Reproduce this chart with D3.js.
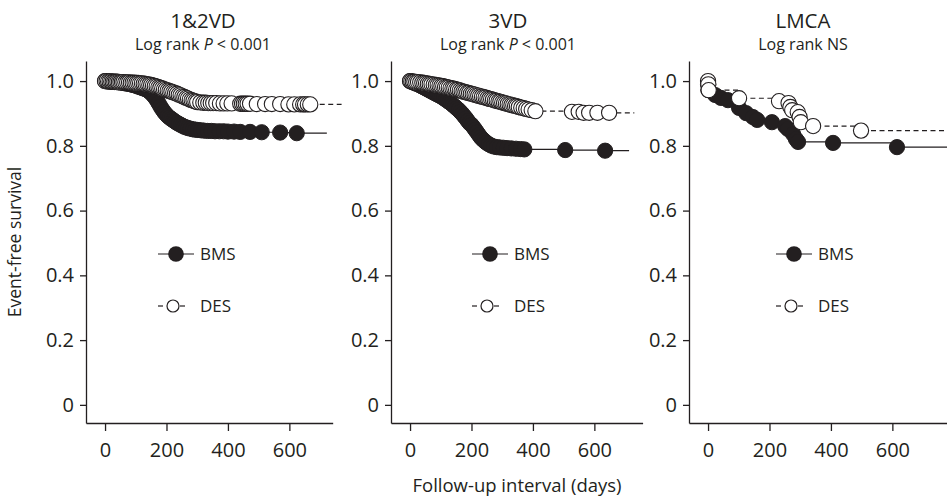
<!DOCTYPE html>
<html><head><meta charset="utf-8">
<script src="https://cdn.jsdelivr.net/npm/d3@7"></script>
<style>
body{margin:0;background:#fff}
text{font-family:"Open Sans","Noto Sans",sans-serif;fill:#231f20}
</style>
</head><body><svg id="c" width="947" height="503"></svg>
<script>
// ---------------- data ----------------
const panelNames = ["1&2VD", "3VD", "LMCA"];
const panelStats = ["P < 0.001", "P < 0.001", "NS"];
const seriesNames = ["BMS", "DES"];
const xTicks = [0, 200, 400, 600];
const yTicks = [0, 0.2, 0.4, 0.6, 0.8, 1.0];
const xLabel = "Follow-up interval (days)";
const yLabel = "Event-free survival";

// [day, survival]
const bms12 = [[0,1.0],[6,0.999],[12,0.999],[18,0.998],[24,0.998],[30,0.997],[36,0.997],[42,0.996],[48,0.996],[54,0.995],[60,0.994],[66,0.993],[72,0.992],[78,0.991],[84,0.99],[90,0.988],[96,0.987],[102,0.985],[108,0.983],[114,0.981],[120,0.979],[126,0.977],[132,0.975],[138,0.972],[144,0.968],[150,0.963],[156,0.957],[162,0.95],[168,0.942],[174,0.932],[180,0.922],[186,0.913],[192,0.905],[198,0.898],[204,0.892],[210,0.887],[216,0.883],[222,0.879],[228,0.875],[234,0.871],[240,0.868],[246,0.865],[252,0.862],[258,0.859],[264,0.857],[270,0.855],[278,0.853],[286,0.851],[294,0.85],[302,0.849],[312,0.848],[322,0.847],[334,0.846],[346,0.846],[358,0.845],[372,0.845],[386,0.845],[400,0.844],[420,0.844],[440,0.843],[472,0.843],[510,0.842],[570,0.841],[624,0.839]];
const des12 = [[0,1.0],[5,1.0],[10,0.999],[15,0.999],[20,0.999],[25,0.998],[30,0.998],[35,0.998],[40,0.998],[45,0.997],[50,0.997],[55,0.997],[60,0.997],[66,0.996],[72,0.996],[78,0.996],[84,0.995],[90,0.995],[96,0.995],[102,0.994],[108,0.994],[114,0.993],[120,0.993],[126,0.992],[132,0.991],[138,0.99],[144,0.989],[150,0.988],[156,0.986],[162,0.985],[168,0.983],[174,0.981],[180,0.979],[186,0.977],[192,0.975],[198,0.973],[204,0.971],[210,0.969],[216,0.967],[222,0.965],[228,0.963],[234,0.961],[240,0.958],[246,0.956],[252,0.953],[258,0.951],[264,0.948],[270,0.946],[276,0.943],[282,0.941],[288,0.939],[294,0.937],[300,0.935],[310,0.934],[320,0.933],[328,0.933],[336,0.932],[344,0.932],[352,0.932],[362,0.932],[374,0.931],[386,0.931],[398,0.931],[412,0.931],[440,0.93],[446,0.93],[452,0.93],[458,0.93],[464,0.93],[472,0.93],[494,0.929],[521,0.929],[543,0.929],[570,0.929],[597,0.928],[616,0.928],[635,0.928],[645,0.928],[651,0.928],[660,0.928],[668,0.928]];

const bms3 = [[0,1.0],[5,0.998],[10,0.996],[15,0.994],[20,0.992],[26,0.99],[32,0.987],[38,0.984],[44,0.981],[50,0.978],[56,0.975],[62,0.972],[68,0.969],[74,0.966],[80,0.963],[86,0.96],[92,0.957],[98,0.954],[104,0.951],[110,0.947],[116,0.943],[122,0.939],[128,0.935],[134,0.931],[140,0.926],[146,0.921],[152,0.916],[158,0.911],[164,0.905],[170,0.899],[176,0.892],[182,0.885],[188,0.877],[194,0.87],[200,0.865],[206,0.858],[212,0.85],[218,0.842],[224,0.834],[230,0.826],[236,0.82],[242,0.815],[248,0.81],[256,0.805],[264,0.801],[272,0.798],[282,0.796],[292,0.795],[304,0.794],[316,0.793],[330,0.792],[345,0.791],[360,0.79],[372,0.789],[505,0.787],[635,0.785]];
const des3 = [[0,1.0],[4,0.999],[9,0.998],[14,0.998],[20,0.997],[26,0.997],[33,0.996],[40,0.995],[46,0.994],[52,0.993],[58,0.992],[64,0.991],[70,0.99],[77,0.989],[84,0.988],[90,0.987],[96,0.986],[102,0.985],[108,0.984],[114,0.982],[120,0.981],[126,0.98],[132,0.978],[138,0.977],[144,0.976],[150,0.974],[156,0.973],[162,0.971],[168,0.969],[174,0.967],[180,0.966],[186,0.964],[192,0.963],[198,0.961],[204,0.96],[210,0.958],[216,0.956],[222,0.955],[228,0.953],[234,0.952],[240,0.95],[246,0.949],[252,0.947],[258,0.945],[264,0.944],[270,0.942],[276,0.94],[282,0.939],[288,0.937],[294,0.936],[300,0.934],[306,0.932],[312,0.931],[318,0.929],[324,0.928],[330,0.926],[336,0.925],[342,0.923],[348,0.922],[354,0.92],[362,0.918],[370,0.916],[378,0.914],[386,0.912],[396,0.91],[408,0.907],[527,0.905],[549,0.905],[565,0.902],[583,0.902],[610,0.902],[648,0.902]];

const bmsLm = [[0,0.99],[1,0.972],[23,0.957],[42,0.948],[65,0.941],[101,0.917],[124,0.901],[146,0.889],[160,0.88],[208,0.873],[251,0.861],[260,0.852],[277,0.836],[286,0.821],[293,0.812],[407,0.809],[615,0.796]];
const desLm = [[0,1.0],[1,0.99],[2,0.972],[101,0.947],[231,0.938],[262,0.932],[268,0.92],[274,0.91],[292,0.904],[298,0.889],[302,0.873],[342,0.861],[498,0.847]];

// last follow-up day for each curve (BMS, DES) per panel
const followEndBms = [722, 713, 820];
const followEndDes = [770, 730, 820];

// ---------------- layout ----------------
const svg = d3.select("#c");
const K = 0.3072;               // px per day
const dayMin = -62;
const panelLeft = [86, 391, 689];
const panelDayMax = [741, 757, 820];
const titleX = [203, 508, 803];
const legendX = [176, 490, 794];
const y = d3.scaleLinear().domain([-0.056, 1.062]).range([423, 61]);
const ink = "#231f20";

const data = [[bms12, des12], [bms3, des3], [bmsLm, desLm]];

data.forEach((pair, i) => {
  const left = panelLeft[i];
  const x = d3.scaleLinear().domain([dayMin, panelDayMax[i]])
    .range([left, left + (panelDayMax[i] - dayMin) * K]);
  const g = svg.append("g");

  // axes
  const ya = g.append("g").attr("transform", `translate(${left},0)`)
    .call(d3.axisLeft(y).tickValues(yTicks).tickSize(6).tickSizeOuter(0).tickPadding(6)
      .tickFormat(d => d === 0 ? "0" : d.toFixed(1)));
  const xa = g.append("g").attr("transform", `translate(0,${y.range()[0]})`)
    .call(d3.axisBottom(x).tickValues(xTicks).tickSize(8).tickSizeOuter(0).tickPadding(12)
      .tickFormat(d3.format("d")));
  [ya, xa].forEach(a => {
    a.selectAll("path,line").attr("stroke", ink).attr("stroke-width", 1.3);
    a.selectAll("text").attr("font-size", 20).attr("fill", ink)
      .style("font-family", '"Open Sans",sans-serif');
  });
  xa.selectAll("text").attr("dy", "0.71em");

  // titles
  g.append("text").attr("x", titleX[i]).attr("y", 28).attr("text-anchor", "middle")
    .attr("font-size", 20.5).text(panelNames[i]);
  const st = g.append("text").attr("x", titleX[i]).attr("y", 50).attr("text-anchor", "middle")
    .attr("font-size", 16);
  st.append("tspan").text("Log rank ");
  if (panelStats[i].startsWith("P")) {
    st.append("tspan").attr("font-style", "italic").text("P");
    st.append("tspan").text(panelStats[i].slice(1));
  } else st.append("tspan").text(panelStats[i]);

  // survival step lines
  const line = d3.line().x(d => x(d[0])).y(d => y(d[1])).curve(d3.curveStepAfter);
  const [bms, des] = pair;
  const bmsLine = bms.concat([[followEndBms[i], bms[bms.length - 1][1]]]);
  const desLine = des.concat([[followEndDes[i], des[des.length - 1][1]]]);
  g.append("path").attr("d", line(bmsLine)).attr("fill", "none")
    .attr("stroke", ink).attr("stroke-width", 1.2);
  g.append("path").attr("d", line(desLine)).attr("fill", "none")
    .attr("stroke", ink).attr("stroke-width", 1.2).attr("stroke-dasharray", "5,3.5");

  // markers
  g.append("g").selectAll("circle").data(bms).join("circle")
    .attr("cx", d => x(d[0])).attr("cy", d => y(d[1])).attr("r", 7.6)
    .attr("fill", ink).attr("stroke", ink).attr("stroke-width", 1);
  g.append("g").selectAll("circle").data(des).join("circle")
    .attr("cx", d => x(d[0])).attr("cy", d => y(d[1])).attr("r", 7.6)
    .attr("fill", "#fff").attr("stroke", ink).attr("stroke-width", 1.1);

  // legend
  const lx = legendX[i];
  const lg = g.append("g");
  lg.append("line").attr("x1", lx - 18).attr("x2", lx + 18).attr("y1", 254).attr("y2", 254)
    .attr("stroke", ink).attr("stroke-width", 1.2);
  lg.append("circle").attr("cx", lx).attr("cy", 254).attr("r", 7.8).attr("fill", ink);
  lg.append("text").attr("x", lx + 24).attr("y", 260).attr("font-size", 17).text(seriesNames[0]);
  const dx = lx - 3;
  lg.append("line").attr("x1", dx - 15).attr("x2", dx - 10).attr("y1", 306).attr("y2", 306)
    .attr("stroke", ink).attr("stroke-width", 1.2);
  lg.append("line").attr("x1", dx + 7).attr("x2", dx + 12).attr("y1", 306).attr("y2", 306)
    .attr("stroke", ink).attr("stroke-width", 1.2);
  lg.append("circle").attr("cx", dx).attr("cy", 306).attr("r", 6).attr("fill", "#fff")
    .attr("stroke", ink).attr("stroke-width", 1.2);
  lg.append("text").attr("x", lx + 24).attr("y", 312).attr("font-size", 17).text(seriesNames[1]);
});

// shared axis titles
svg.append("text").attr("x", 517).attr("y", 492).attr("text-anchor", "middle")
  .attr("font-size", 18.5).text(xLabel);
svg.append("text").attr("transform", "translate(21,242) rotate(-90)")
  .attr("text-anchor", "middle").attr("font-size", 17.5).text(yLabel);
</script>
</body></html>
